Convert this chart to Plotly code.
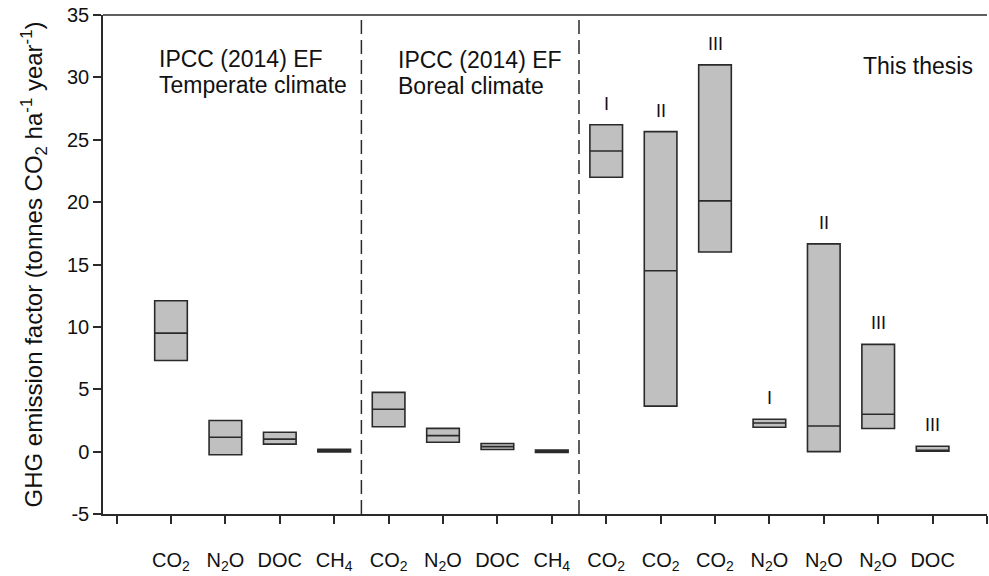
import plotly.graph_objects as go

# ---- data ----
positions = [2, 3, 4, 5, 6, 7, 8, 9, 10, 11, 12, 13, 14, 15, 16]
gas = ["CO2", "N2O", "DOC", "CH4", "CO2", "N2O", "DOC", "CH4",
       "CO2", "CO2", "CO2", "N2O", "N2O", "N2O", "DOC"]
lower = [7.3, -0.25, 0.6, -0.03, 2.0, 0.75, 0.17, -0.06,
         22.0, 3.65, 16.0, 1.95, 0.0, 1.85, 0.03]
median = [9.5, 1.15, 1.0, 0.08, 3.4, 1.28, 0.4, 0.03,
          24.1, 14.5, 20.1, 2.3, 2.05, 3.0, 0.05]
upper = [12.1, 2.5, 1.55, 0.19, 4.75, 1.86, 0.65, 0.12,
         26.2, 25.65, 31.0, 2.6, 16.65, 8.6, 0.43]
site_labels = ["", "", "", "", "", "", "", "",
               "I", "II", "III", "I", "II", "III", "III"]

tick_vals = list(range(1, 18))
gas_html = {"CO2": "CO<sub>2</sub>", "N2O": "N<sub>2</sub>O",
            "DOC": "DOC", "CH4": "CH<sub>4</sub>"}
tick_text = [""] + [gas_html[g] for g in gas] + [""]

y_tick_vals = [-5, 0, 5, 10, 15, 20, 25, 30, 35]
y_tick_text = ["-5", "0", "5", "10", "15", "20", "25", "30", "35"]

group_dividers = [5.5, 9.5]

FONT = "Liberation Sans, Arial, sans-serif"
LINE = "#2a2a2a"

fig = go.Figure()


def add_boxes(idx, fill):
    fig.add_trace(go.Box(
        x=[positions[i] for i in idx],
        q1=[lower[i] for i in idx], median=[median[i] for i in idx],
        q3=[upper[i] for i in idx],
        lowerfence=[lower[i] for i in idx], upperfence=[upper[i] for i in idx],
        width=0.6, whiskerwidth=0,
        fillcolor=fill,
        line=dict(color=LINE, width=1.6),
        boxpoints=False, showlegend=False, hoverinfo="skip",
    ))


add_boxes([i for i, g in enumerate(gas) if g != "CH4"], "#c0c0c0")
add_boxes([i for i, g in enumerate(gas) if g == "CH4"], "#111111")

for xv in group_dividers:
    fig.add_shape(type="line", xref="x", yref="y", x0=xv, x1=xv, y0=-5, y1=35,
                  line=dict(color=LINE, width=1.5, dash="14px,6px"))

# site labels above boxes
for xv, up, lab in zip(positions, upper, site_labels):
    if lab:
        fig.add_annotation(x=xv, y=up, text=lab, showarrow=False,
                           xanchor="center", yanchor="middle", yshift=21,
                           font=dict(family=FONT, size=18, color="#111"))

# group header texts
headers = [
    (1.74, 31.45, "IPCC (2014) EF"), (1.74, 29.35, "Temperate climate"),
    (6.13, 31.4, "IPCC (2014) EF"), (6.13, 29.3, "Boreal climate"),
    (14.69, 30.95, "This thesis"),
]
for xv, yv, t in headers:
    fig.add_annotation(x=xv, y=yv, text=t, showarrow=False,
                       xanchor="left", yanchor="middle",
                       font=dict(family=FONT, size=23, color="#111"))

fig.update_layout(
    width=989, height=576,
    margin=dict(l=103, r=2, t=15, b=58),
    paper_bgcolor="white", plot_bgcolor="white",
    font=dict(family=FONT, color="#111"),
    xaxis=dict(
        range=[0.75, 17.0],
        tickvals=tick_vals, ticktext=tick_text,
        ticks="outside", ticklen=8, tickwidth=1.5, tickcolor=LINE,
        showline=True, linecolor=LINE, linewidth=1.5, mirror=False,
        showgrid=False, zeroline=False,
        tickfont=dict(family=FONT, size=20, color="#111"),
        ticklabelstandoff=19,
    ),
    yaxis=dict(
        range=[-5, 35],
        tickvals=y_tick_vals, ticktext=y_tick_text,
        ticks="outside", ticklen=8, tickwidth=1.5, tickcolor=LINE,
        showline=True, linecolor=LINE, linewidth=1.5,
        showgrid=False, zeroline=False,
        tickfont=dict(family=FONT, size=20, color="#111"),
        title=dict(text="GHG emission factor (tonnes CO<sub>2</sub> ha<sup>-1</sup> year<sup>-1</sup>)",
                   font=dict(family=FONT, size=24, color="#111"), standoff=18),
    ),
)

# top frame line
fig.add_shape(type="line", xref="paper", yref="paper", x0=0, x1=1, y0=1, y1=1,
              line=dict(color=LINE, width=1.5))

fig.write_html("out.html")
